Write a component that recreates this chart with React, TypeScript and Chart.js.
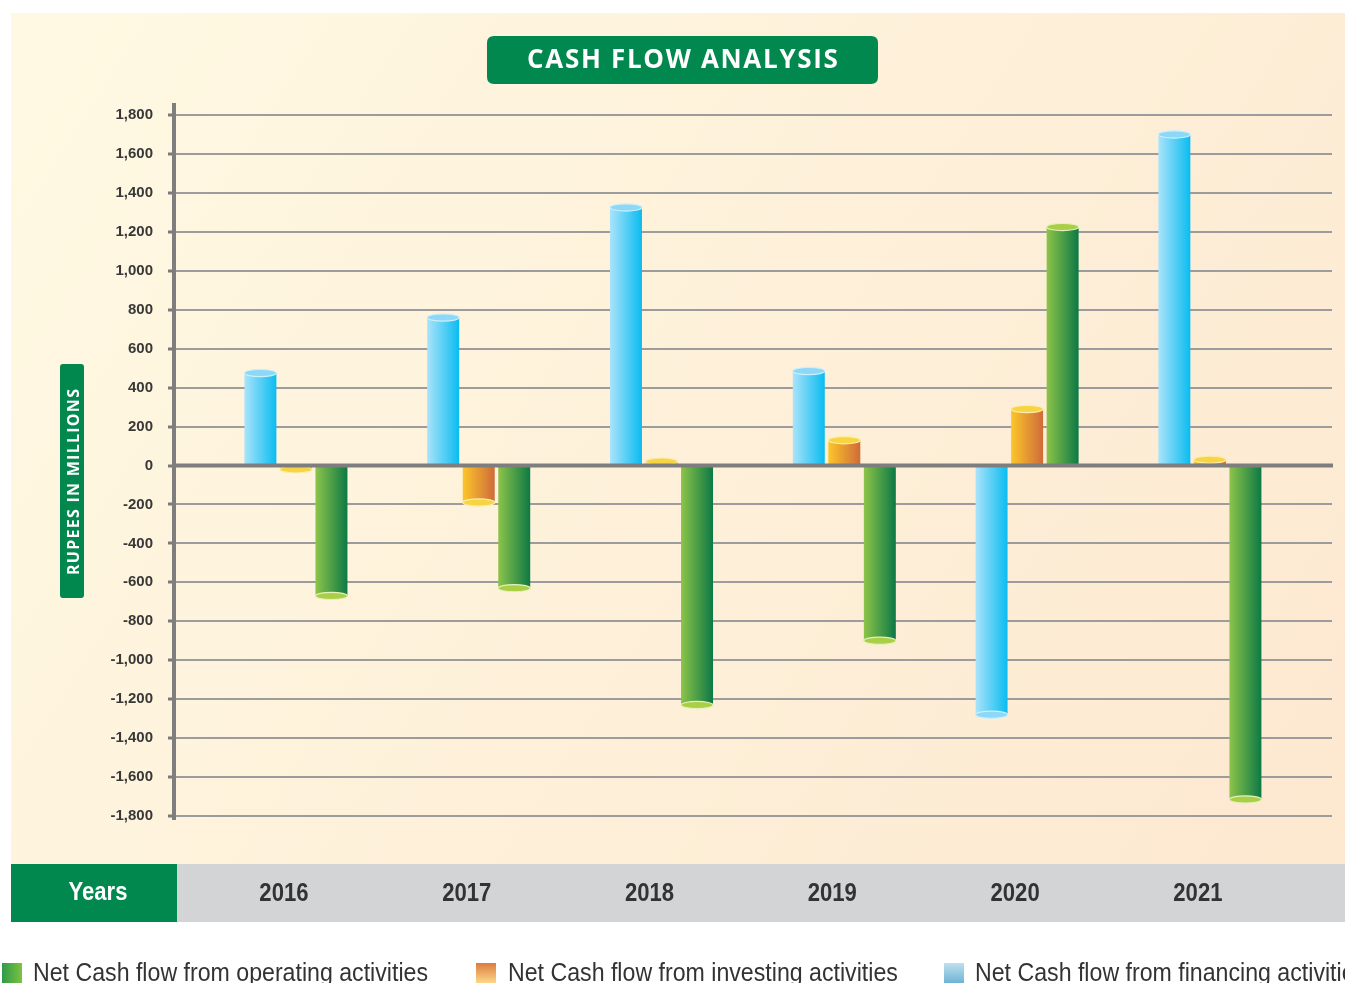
import React, { useEffect, useRef } from "react";
import { Chart, registerables } from "chart.js";

Chart.register(...registerables);

// ---------- data ----------
const years = ["2016", "2017", "2018", "2019", "2020", "2021"];
const financingValues = [475, 760, 1325, 485, -1280, 1700];
const investingValues = [-20, -190, 20, 130, 290, 30];
const operatingValues = [-670, -630, -1230, -900, 1225, -1715];
const financingLabel = "Net Cash flow from financing activities";
const investingLabel = "Net Cash flow from investing activities";
const operatingLabel = "Net Cash flow from operating activities";
const chartTitle = "CASH FLOW ANALYSIS";
const yAxisTitle = "RUPEES IN MILLIONS";
const xAxisTitle = "Years";
const Y_MIN = -1800;
const Y_MAX = 1800;
const Y_STEP = 200;

// ---------- style ----------
const W = 1345;
const H = 983;
const GREEN = "#00884E";
const CAT_PCT = 0.583;
const BAR_PCT = 0.9;
const X_MIN = -0.667;
const X_MAX = 5.668;

type Pal = { light: string; dark: string; cap: string; edge: string; swA: string; swB: string; vertical: boolean };
const palFinancing: Pal = { light: "#AAE3FB", dark: "#0ABCF0", cap: "#8DD7F7", edge: "#CDEFFC", swA: "#BFE0EE", swB: "#6FB3D4", vertical: true };
const palInvesting: Pal = { light: "#FCC62A", dark: "#CF6B3A", cap: "#F7D444", edge: "#FCEDA8", swA: "#DC7C3E", swB: "#FCD88A", vertical: true };
const palOperating: Pal = { light: "#8DC449", dark: "#0C7945", cap: "#AACF47", edge: "#E4F1BC", swA: "#2E9A48", swB: "#7CC242", vertical: false };

const palettes = [palFinancing, palInvesting, palOperating];

function makeBg(dsIndex: number) {
  const p = palettes[dsIndex];
  return (c: any) => {
    const chart = c.chart;
    const xs = chart.scales && chart.scales.x;
    if (!xs || c.type !== "data" || !isFinite(xs.getPixelForValue(0))) return p.dark;
    const unit = xs.getPixelForValue(1) - xs.getPixelForValue(0);
    const chunk = (unit * CAT_PCT) / 3;
    const center = xs.getPixelForValue(c.dataIndex) + (dsIndex - 1) * chunk;
    const w = chunk * BAR_PCT;
    const g = chart.ctx.createLinearGradient(center - w / 2, 0, center + w / 2, 0);
    g.addColorStop(0, p.light);
    g.addColorStop(1, p.dark);
    return g;
  };
}

function rr(ctx: CanvasRenderingContext2D, x: number, y: number, w: number, h: number, r: number) {
  ctx.beginPath();
  ctx.moveTo(x + r, y);
  ctx.lineTo(x + w - r, y);
  ctx.quadraticCurveTo(x + w, y, x + w, y + r);
  ctx.lineTo(x + w, y + h - r);
  ctx.quadraticCurveTo(x + w, y + h, x + w - r, y + h);
  ctx.lineTo(x + r, y + h);
  ctx.quadraticCurveTo(x, y + h, x, y + h - r);
  ctx.lineTo(x, y + r);
  ctx.quadraticCurveTo(x, y, x + r, y);
  ctx.closePath();
}

function fitSpacing(ctx: any, text: string, width: number) {
  ctx.letterSpacing = "0px";
  const m = ctx.measureText(text).width;
  const sp = (width - m) / Math.max(1, text.length - 1);
  ctx.letterSpacing = sp.toFixed(2) + "px";
}

const decorPlugin = {
  id: "decor",
  beforeDraw(chart: any) {
    const ctx: CanvasRenderingContext2D = chart.ctx;
    ctx.save();
    ctx.fillStyle = "#ffffff";
    ctx.fillRect(0, 0, W, H);
    const g = ctx.createLinearGradient(11, 13, 1345, 864);
    g.addColorStop(0, "#FFF9E3");
    g.addColorStop(1, "#FDE8D0");
    ctx.fillStyle = g;
    ctx.fillRect(11, 13, W - 11, 851);

    // title box
    ctx.fillStyle = GREEN;
    rr(ctx, 487, 36, 391, 48, 7);
    ctx.fill();
    ctx.fillStyle = "#ffffff";
    ctx.font = "bold 26px 'Open Sans', 'Liberation Sans', sans-serif";
    ctx.textAlign = "left";
    ctx.textBaseline = "middle";
    fitSpacing(ctx, chartTitle, 311);
    ctx.fillText(chartTitle, 527, 61);
    (ctx as any).letterSpacing = "0px";

    // y axis title box
    ctx.fillStyle = GREEN;
    rr(ctx, 60, 364, 24, 234, 3);
    ctx.fill();
    ctx.save();
    ctx.translate(73, 482);
    ctx.rotate(-Math.PI / 2);
    ctx.fillStyle = "#ffffff";
    ctx.font = "bold 16px 'Open Sans', 'Liberation Sans', sans-serif";
    fitSpacing(ctx, yAxisTitle, 186);
    ctx.textAlign = "left";
    ctx.textBaseline = "middle";
    ctx.fillText(yAxisTitle, -93, 1);
    (ctx as any).letterSpacing = "0px";
    ctx.restore();

    // grey years band
    ctx.fillStyle = "#D3D4D6";
    ctx.fillRect(11, 864, W - 11, 58);
    ctx.fillStyle = GREEN;
    ctx.fillRect(11, 864, 166, 58);
    ctx.restore();
  },
  afterDatasetsDraw(chart: any) {
    const ctx: CanvasRenderingContext2D = chart.ctx;
    const ys = chart.scales.y;
    const xs = chart.scales.x;
    const area = chart.chartArea;
    ctx.save();
    // caps
    chart.data.datasets.forEach((ds: any, d: number) => {
      const meta = chart.getDatasetMeta(d);
      const p = palettes[d];
      meta.data.forEach((el: any) => {
        const { x, y, width } = el.getProps(["x", "y", "width"], true);
        ctx.beginPath();
        ctx.ellipse(x, y, width / 2, 3.6, 0, 0, Math.PI * 2);
        ctx.fillStyle = p.cap;
        ctx.fill();
        ctx.lineWidth = 1.2;
        ctx.strokeStyle = p.edge;
        ctx.stroke();
      });
    });
    // zero line
    const y0 = ys.getPixelForValue(0);
    ctx.strokeStyle = "#7E7E7E";
    ctx.lineWidth = 4;
    ctx.beginPath();
    ctx.moveTo(area.left, y0);
    ctx.lineTo(area.right + 1, y0);
    ctx.stroke();
    // y axis line
    ctx.beginPath();
    ctx.moveTo(area.left, area.top - 12);
    ctx.lineTo(area.left, area.bottom + 4);
    ctx.stroke();
    ctx.restore();

    // x labels in band
    ctx.save();
    ctx.fillStyle = "#333333";
    ctx.textAlign = "center";
    ctx.textBaseline = "middle";
    ctx.font = "bold 26px 'Liberation Sans', Arial, sans-serif";
    const sx = 0.85;
    years.forEach((label, i) => {
      const cx = xs.getPixelForValue(i) - 12;
      ctx.save();
      ctx.translate(cx, 894);
      ctx.scale(sx, 1);
      ctx.fillText(label, 0, 0);
      ctx.restore();
    });
    ctx.fillStyle = "#ffffff";
    ctx.save();
    ctx.translate(98, 893);
    ctx.scale(sx, 1);
    ctx.fillText(xAxisTitle, 0, 0);
    ctx.restore();
    ctx.restore();

    // legend
    ctx.save();
    const items = [
      { label: operatingLabel, pal: palOperating, sw: 2, tx: 33 },
      { label: investingLabel, pal: palInvesting, sw: 476, tx: 508 },
      { label: financingLabel, pal: palFinancing, sw: 944, tx: 975 },
    ];
    ctx.font = "25px 'Liberation Sans', Arial, sans-serif";
    const scaleX = 395 / ctx.measureText(operatingLabel).width;
    items.forEach((it) => {
      const g = it.pal.vertical
        ? ctx.createLinearGradient(0, 963, 0, 983)
        : ctx.createLinearGradient(it.sw, 0, it.sw + 20, 0);
      g.addColorStop(0, it.pal.swA);
      g.addColorStop(1, it.pal.swB);
      ctx.fillStyle = g;
      ctx.fillRect(it.sw, 963, 20, 20);
      ctx.fillStyle = "#333333";
      ctx.textAlign = "left";
      ctx.textBaseline = "alphabetic";
      ctx.save();
      ctx.translate(it.tx, 981);
      ctx.scale(scaleX, 1);
      ctx.fillText(it.label, 0, 0);
      ctx.restore();
    });
    ctx.restore();
  },
};

export default function App() {
  const ref = useRef<HTMLCanvasElement | null>(null);
  useEffect(() => {
    if (!ref.current) return;
    const toXY = (vals: number[]) => vals.map((v, i) => ({ x: i, y: v }));
    const chart = new Chart(ref.current, {
      type: "bar",
      data: {
        datasets: [
          { label: financingLabel, data: toXY(financingValues) as any, backgroundColor: makeBg(0) as any, borderWidth: 0 },
          { label: investingLabel, data: toXY(investingValues) as any, backgroundColor: makeBg(1) as any, borderWidth: 0 },
          { label: operatingLabel, data: toXY(operatingValues) as any, backgroundColor: makeBg(2) as any, borderWidth: 0 },
        ],
      },
      options: {
        responsive: false,
        animation: false,
        devicePixelRatio: 1,
        categoryPercentage: CAT_PCT,
        barPercentage: BAR_PCT,
        layout: { padding: { top: 115, bottom: 167, left: 0, right: 13 } },
        plugins: { legend: { display: false }, tooltip: { enabled: false }, title: { display: false } },
        scales: {
          x: {
            type: "linear",
            display: false,
            offset: false,
            min: X_MIN,
            max: X_MAX,
            ticks: { stepSize: 1, includeBounds: false },
            grid: { display: false, offset: false },
          },
          y: {
            min: Y_MIN,
            max: Y_MAX,
            afterFit: (scale: any) => {
              scale.width = 174;
            },
            border: { display: false },
            grid: {
              color: (c: any) => (c.tick && c.tick.value === 0 ? "rgba(0,0,0,0)" : "#9C9C9C"),
              lineWidth: 2,
              drawTicks: true,
              tickLength: 6,
              tickColor: "#7A7A7A",
              tickWidth: 3,
            },
            ticks: {
              stepSize: Y_STEP,
              padding: 15,
              color: "#383838",
              font: { family: "'Liberation Sans', Arial, sans-serif", weight: "bold", size: 15 },
              callback: (v: any) => Number(v).toLocaleString("en-US"),
            },
          },
        },
      } as any,
      plugins: [decorPlugin],
    });
    return () => chart.destroy();
  }, []);
  return (
    <div style={{ position: "fixed", left: 0, top: 0, width: W, height: H }}>
      <canvas ref={ref} width={W} height={H} style={{ width: W, height: H, display: "block" }} />
    </div>
  );
}
